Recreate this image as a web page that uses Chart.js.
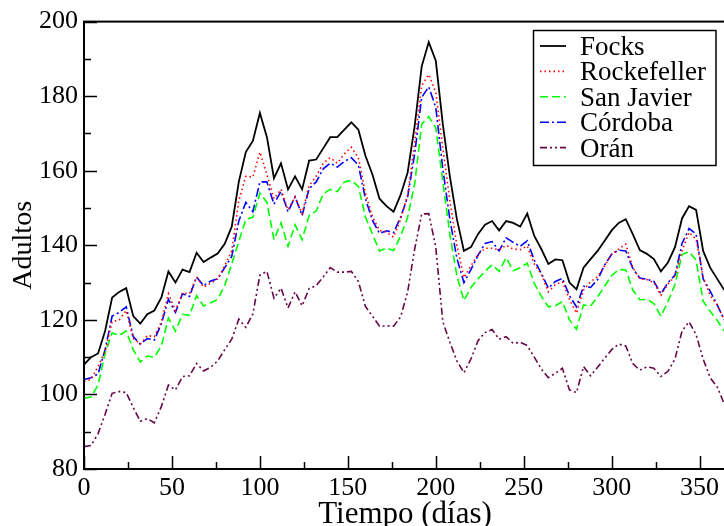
<!DOCTYPE html>
<html>
<head>
<meta charset="utf-8">
<script src="https://cdn.jsdelivr.net/npm/chart.js@4/dist/chart.umd.min.js"></script>
<style>
  html, body { margin: 0; padding: 0; background: #fff; overflow: hidden; }
  #wrap { width: 724px; height: 526px; overflow: hidden; }
</style>
</head>
<body>
<div id="wrap"><canvas id="chart" width="740" height="526"></canvas></div>
<script>
// days sampled every 4 days
const days = [0,4,8,12,16,20,24,28,32,36,40,44,48,52,56,60,64,68,72,76,80,84,88,92,96,100,
  104,108,112,116,120,124,128,132,136,140,144,148,152,156,160,164,168,172,176,180,184,188,192,196,
  200,204,208,212,216,220,224,228,232,236,240,244,248,252,256,260,264,268,272,276,280,284,288,292,
  296,300,304,308,312,316,320,324,328,332,336,340,344,348,352,356,360,364];

const focks = [108,110,111,117,126,127.5,128.5,121,119,121.5,122.5,126,133,130,133.5,132.8,138,135.5,136.7,137.8,140.4,145,157,165,168,175.5,
  169,158,162,155,158.5,155,162.7,163,166,169,169,171,173,171,164,159,152.5,150.5,149,153.5,159.5,172,188,194.5,
  189.5,172.5,158.5,147,138.5,139.5,143,145.5,146.5,144,146.5,146,145,148.5,142.5,139,135,136.2,136,130,128.2,134,136.3,138.5,
  141.2,144,146,147,143,138.7,137.7,136.3,133,135.4,139.5,147.2,150.5,149.5,138.5,134,131,128];

const rockefeller = [103.5,104,107.5,111.5,119.5,120,122.5,115,113.5,115.8,115.5,119.5,127,122.5,127.2,127,131.5,128.8,129.8,131,134.5,138.5,152,158.5,158.3,165,
  159,152.5,155,149.5,153,148.5,156,158.5,162,163.5,162,164.5,166.3,163.5,154,147.6,144,143.5,142.2,147,153.5,167.5,182.8,185.8,
  181,166,152,140,131.3,134.5,137.5,139.2,139.2,138.8,140,139,138.8,139.8,135,132.3,127.5,129.5,130.2,125.5,121.8,128,130.2,131.6,
  134.5,137.6,139,140.3,134,131,130.8,130,126.6,129.6,131.8,138.5,143.5,141.6,131.5,126.5,124,120];

const sanJavier = [99,99.3,102.5,111,116.5,115.8,117,112,108.7,110.3,110,113,120.5,117,121.5,121.2,126.5,123.7,124.6,125.5,129.2,135,141,147,147.5,154,
  151.5,141.5,146,139.7,145.5,141.5,148,149.2,153.8,155,154.4,157,157.4,155.8,147.6,143,138.5,139.3,138.6,142.5,147.5,156.5,172.5,174.5,
  171.5,157,143,131.8,125.2,128.7,131,133,134.8,133,136.7,133.2,134,135.2,129.8,126.3,123.5,123.8,124.9,120,117.5,124,123.7,126.2,
  129,131.9,133.5,133.4,128,125.4,125.5,124.4,121,124.9,129.5,137.5,138.3,136,125,122.3,119.9,117];

const cordoba = [104,104.5,105.5,112,121,122,123.5,115.5,113.5,115,114.6,119,125.5,122,127,126.3,131.5,129.2,130.4,131,134,137,146.5,151.5,149,157,
  157,151,154.5,149,153,148,155.2,157,160.5,162,161,162.5,163.5,161.5,152.5,146.7,143.2,143.9,143.4,147.5,153,164.5,179.7,182.5,
  177,160.5,147,136.5,130,133.5,137.3,140.5,141,138.5,142,140.8,139.7,141.2,136,132.5,128.5,130.3,131.1,126.5,123.5,129,128.7,130.8,
  134.7,137.6,138.7,138.5,133.8,131.2,130.9,130.3,127,130,132,140.5,144.5,143,131,127.7,124,120];

const oran = [86,86.3,89.5,94.7,100.3,100.8,100.5,96.5,92.8,93.5,92.4,96.8,102.5,101.2,104.8,105,108.3,106.3,107.3,109,112,114.8,120.2,118,121.6,132,
  133,125.8,128.5,123.2,127.5,123.8,128.4,129.2,131.5,134,132.8,132.8,133,130.3,123.6,121,118.3,118.4,118.3,120.8,127.5,139,148.4,148.5,
  139.5,119.5,114,109,105.8,109.5,114.4,116.6,117.4,114.8,115.5,113.7,114,113.1,110,106.8,104.5,105.7,107,101.2,100.5,107.5,105,107.3,
  109.7,112,113.5,113,108.3,106.5,107.4,107,104.8,106.2,109.5,117,119.5,116,109.5,104.5,102,97.5];

const seriesNames = ["Focks", "Rockefeller", "San Javier", "Córdoba", "Orán"];
const xTickValues = [0, 50, 100, 150, 200, 250, 300, 350];
const yTickValues = [80, 100, 120, 140, 160, 180, 200];
const xTitle = "Tiempo (días)";
const yTitle = "Adultos";

const FONT = '"Liberation Serif", "Times New Roman", serif';

function pts(values) {
  return values.map((v, i) => ({ x: days[i], y: v }));
}

// inward tick marks, frame, axis titles and boxed legend
const decorations = {
  id: "decorations",
  afterDraw(chart) {
    const ctx = chart.ctx;
    const { left, right, top, bottom } = chart.chartArea;
    const xs = chart.scales.x;
    const ys = chart.scales.y;
    ctx.save();
    ctx.strokeStyle = "#000";
    ctx.lineWidth = 2;
    ctx.strokeRect(left, top, right - left, bottom - top);

    ctx.lineWidth = 1.5;
    for (let v = 0; v <= 350; v += 25) {
      const px = Math.round(xs.getPixelForValue(v)) + 0.5;
      const len = v % 50 === 0 ? 13 : 7;
      ctx.beginPath();
      ctx.moveTo(px, bottom);
      ctx.lineTo(px, bottom - len);
      ctx.stroke();
    }
    for (let v = 80; v <= 200; v += 10) {
      const py = Math.round(ys.getPixelForValue(v)) + 0.5;
      const len = v % 20 === 0 ? 13 : 7;
      ctx.beginPath();
      ctx.moveTo(left, py);
      ctx.lineTo(left + len, py);
      ctx.stroke();
    }

    ctx.fillStyle = "#000";
    ctx.textAlign = "center";
    ctx.textBaseline = "alphabetic";
    ctx.font = "31px " + FONT;
    ctx.fillText(xTitle, (left + right) / 2, 523);
    ctx.font = "28px " + FONT;
    ctx.save();
    ctx.translate(31, (top + bottom) / 2);
    ctx.rotate(-Math.PI / 2);
    ctx.fillText(yTitle, 0, 0);
    ctx.restore();

    // legend
    ctx.font = "27px " + FONT;
    ctx.lineWidth = 1.5;
    ctx.strokeStyle = "#000";
    ctx.strokeRect(533.5, 30.5, 182.5, 135);
    ctx.textAlign = "left";
    chart.data.datasets.forEach((ds, i) => {
      const base = 55 + i * 25.4;
      ctx.save();
      ctx.strokeStyle = ds.borderColor;
      ctx.lineWidth = ds.borderWidth;
      ctx.setLineDash(ds.borderDash || []);
      ctx.beginPath();
      ctx.moveTo(540, base - 9);
      ctx.lineTo(566, base - 9);
      ctx.stroke();
      ctx.restore();
      ctx.fillText(ds.label, 580, base);
    });
    ctx.restore();
  }
};

const ctx = document.getElementById("chart").getContext("2d");
new Chart(ctx, {
  type: "line",
  data: {
    datasets: [
      { label: seriesNames[0], data: pts(focks), borderColor: "#000000", borderWidth: 1.8, borderDash: [] },
      { label: seriesNames[1], data: pts(rockefeller), borderColor: "#ff0000", borderWidth: 1.6, borderDash: [1.5, 3] },
      { label: seriesNames[2], data: pts(sanJavier), borderColor: "#00ff00", borderWidth: 1.6, borderDash: [8, 4] },
      { label: seriesNames[3], data: pts(cordoba), borderColor: "#0000ff", borderWidth: 1.6, borderDash: [9, 3, 2, 3] },
      { label: seriesNames[4], data: pts(oran), borderColor: "#670748", borderWidth: 1.6, borderDash: [7, 3, 2, 3, 2, 3] },
    ],
  },
  options: {
    responsive: false,
    devicePixelRatio: 1,
    animation: false,
    layout: { padding: { top: 21, right: 14, left: 0, bottom: 0 } },
    elements: {
      point: { radius: 0 },
      line: { tension: 0, fill: false },
    },
    plugins: {
      legend: { display: false },
      tooltip: { enabled: false },
    },
    scales: {
      x: {
        type: "linear",
        min: 0,
        max: 365,
        grid: { display: false, drawTicks: false },
        border: { display: false },
        afterBuildTicks: (scale) => {
          scale.ticks = xTickValues.map((v) => ({ value: v }));
        },
        afterFit: (scale) => { scale.height = 57; },
        ticks: {
          autoSkip: false,
          maxRotation: 0,
          padding: 4,
          color: "#000",
          font: { family: FONT, size: 26 },
        },
      },
      y: {
        min: 80,
        max: 200,
        grid: { display: false, drawTicks: false },
        border: { display: false },
        afterBuildTicks: (scale) => {
          scale.ticks = yTickValues.map((v) => ({ value: v }));
        },
        afterFit: (scale) => { scale.width = 84; },
        ticks: {
          padding: 6,
          color: "#000",
          font: { family: FONT, size: 26 },
        },
      },
    },
  },
  plugins: [decorations],
});
</script>
</body>
</html>
